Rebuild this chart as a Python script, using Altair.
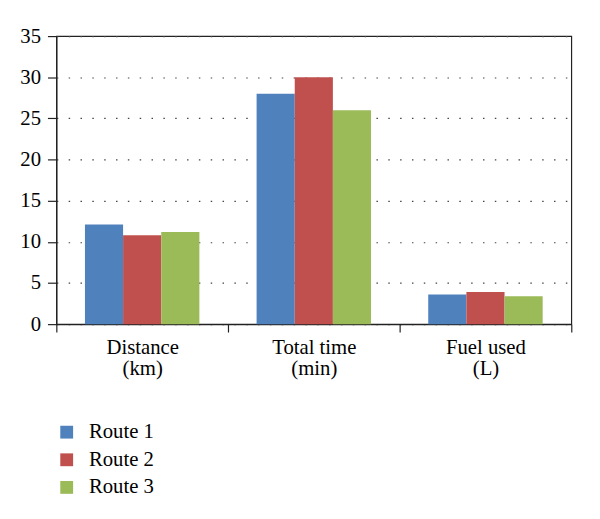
import altair as alt
import pandas as pd

categories = ["Distance (km)", "Total time (min)", "Fuel used (L)"]
routes = ["Route 1", "Route 2", "Route 3"]
route1 = [12.1, 28.0, 3.6]
route2 = [10.8, 30.0, 3.9]
route3 = [11.2, 26.0, 3.4]
colors = ["#4F81BD", "#C0504D", "#9BBB59"]
y_ticks = [0, 5, 10, 15, 20, 25, 30, 35]

rows = []
for r, vals in zip(routes, [route1, route2, route3]):
    for c, v in zip(categories, vals):
        rows.append({"category": c, "route": r, "value": v})
df = pd.DataFrame(rows)

font = "Liberation Serif"
line_col = "#222222"

label_expr = ("[slice(datum.label, 0, indexof(datum.label, ' (')), "
              "slice(datum.label, indexof(datum.label, ' (') + 1)]")

chart = alt.Chart(df).mark_bar(strokeWidth=0).encode(
    x=alt.X(
        "category:N", sort=categories, title=None,
        scale=alt.Scale(paddingInner=0, paddingOuter=0),
        axis=alt.Axis(
            labelAngle=0, tickBand="extent", tickSize=8, labelPadding=5,
            labelExpr=label_expr, labelLineHeight=21,
            domainColor=line_col, tickColor=line_col, domainWidth=1.2, tickWidth=1.2,
            labelFont=font, labelFontSize=21, labelColor="#000", grid=False,
        ),
    ),
    xOffset=alt.XOffset("route:N", sort=routes,
                        scale=alt.Scale(paddingInner=0, paddingOuter=0.75)),
    y=alt.Y(
        "value:Q", title=None,
        scale=alt.Scale(domain=[0, 35], nice=False),
        axis=alt.Axis(
            values=y_ticks, tickSize=9, labelPadding=7,
            domainColor=line_col, tickColor=line_col, domainWidth=1.2, tickWidth=1.2,
            labelFont=font, labelFontSize=21, labelColor="#000",
            grid=True, gridDash=[1.5, 10.5], gridColor="#444444", gridWidth=1.2,
        ),
    ),
    color=alt.Color(
        "route:N",
        scale=alt.Scale(domain=routes, range=colors),
        legend=alt.Legend(
            title=None, orient="none", legendX=0, legendY=391,
            symbolType="square", symbolSize=169, symbolStrokeWidth=0,
            labelFont=font, labelFontSize=21, labelColor="#000",
            labelOffset=12, rowPadding=6, padding=0,
        ),
    ),
).properties(
    width=522, height=292,
    autosize=alt.AutoSizeParams(type="none"),
    padding={"left": 49, "top": 25, "right": 21, "bottom": 190},
).configure_view(stroke=line_col, strokeWidth=1.2)

chart.save("out.html", embed_options={"renderer": "svg", "actions": False})
